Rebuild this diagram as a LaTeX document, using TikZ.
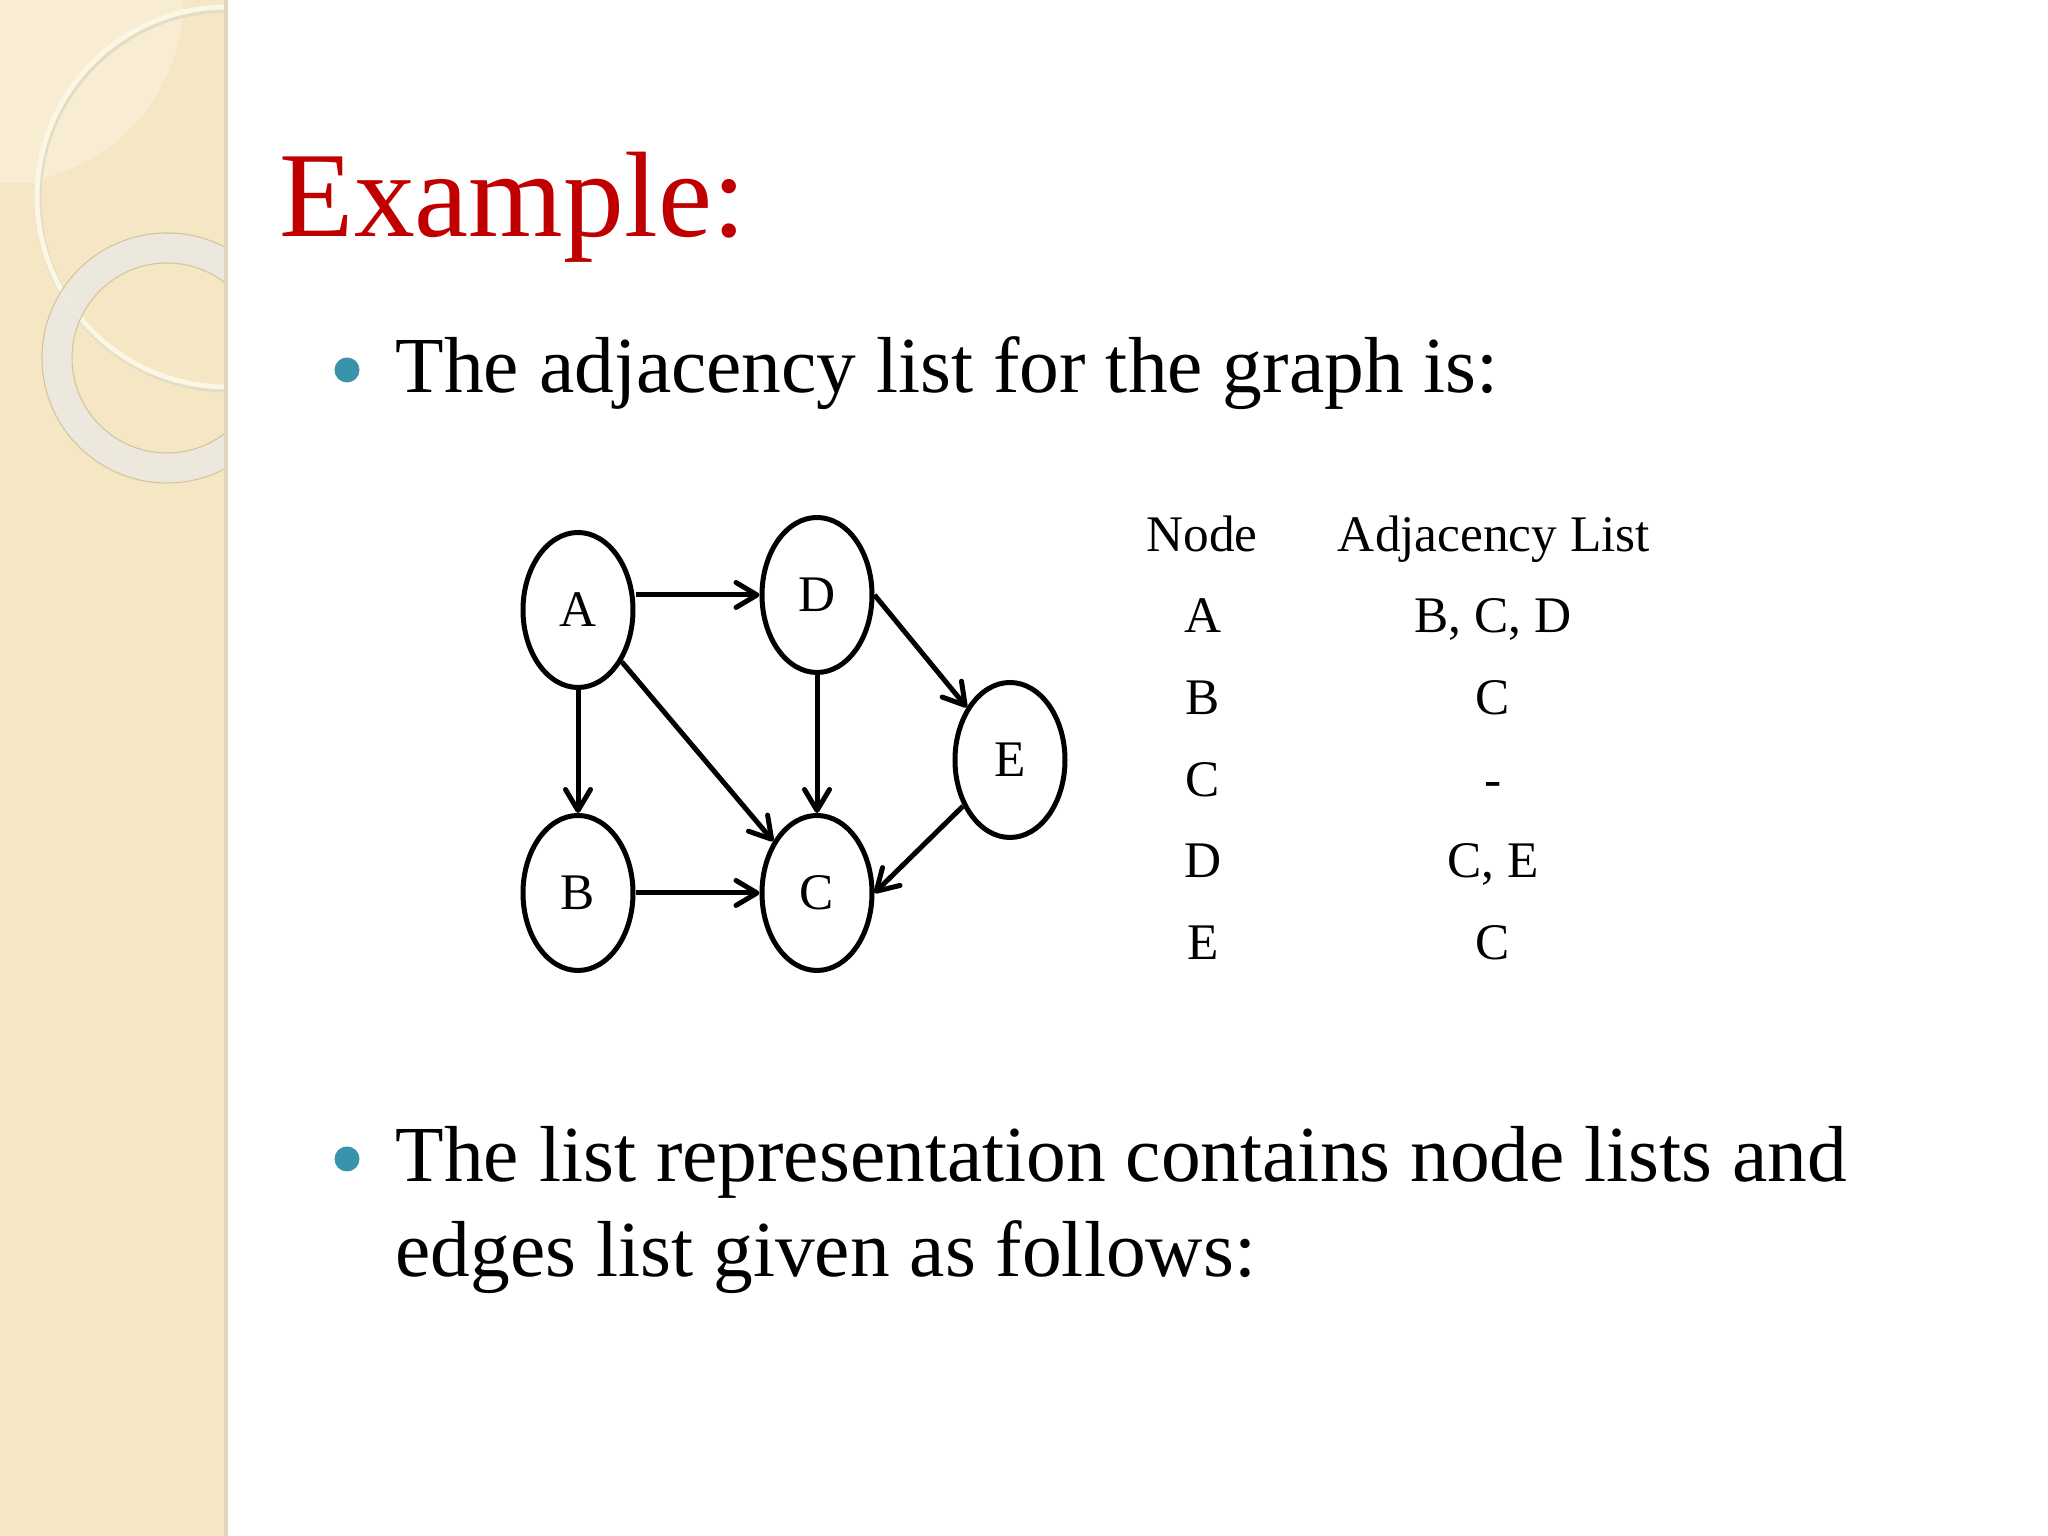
\documentclass[tikz,border=0pt]{standalone}
\usepackage{fontspec}
\setmainfont{Liberation Serif}
\usetikzlibrary{positioning, arrows.meta, shapes.geometric}

\definecolor{bandcream}{RGB}{245,231,195}
\definecolor{patchcream}{RGB}{248,237,210}
\definecolor{ringcream}{RGB}{252,246,228}
\definecolor{ringgrey}{RGB}{236,233,224}
\definecolor{ringedge}{RGB}{212,196,158}
\definecolor{titlered}{RGB}{192,0,0}
\definecolor{bulletteal}{RGB}{56,147,171}

\begin{document}
\begin{tikzpicture}[> = {Straight Barb[length=2.1mm, width=2.5mm, round]},
    vertex/.style = {draw, ellipse, line width=0.5mm, minimum width=11mm,
      minimum height=15.5mm, inner sep=0pt, font=\fontsize{14.6}{17}\selectfont},
    cell/.style = {anchor=base, inner sep=0pt, font=\fontsize{14.6}{17}\selectfont},
    bodytext/.style = {anchor=base west, inner sep=0pt, font=\fontsize{22.6}{27}\selectfont},
    dot/.style = {circle, fill=bulletteal, inner sep=0pt, minimum size=2.5mm}]
    \useasboundingbox (0,0) rectangle (20.48,15.36);

    % side band
    \fill[white] (0,0) rectangle (20.48,15.36);
    \fill[bandcream] (0,0) rectangle (2.28,15.36);
    \begin{scope}
      \clip (0,0) rectangle (2.26,15.36);
      \begin{scope}
        \clip (0,13.53) rectangle (1.83,15.36);
        \fill[patchcream] (0,15.36) circle (1.83);
        \fill[patchcream, even odd rule] (0,13.53) rectangle (1.83,15.36) (2.27,13.39) circle (1.90);
      \end{scope}
      \draw[ringedge!60, line width=0.7mm] (2.28,13.37) circle (1.90);
      \draw[ringcream, line width=0.5mm] (2.27,13.39) circle (1.90);
      \draw[ringgrey, line width=3mm, opacity=.9] (1.67,11.78) circle (1.10);
      \draw[ringedge, line width=0.3pt] (1.67,11.78) circle (1.25) (1.67,11.78) circle (0.95);
    \end{scope}
    \fill[ringedge!70] (2.24,0) rectangle (2.28,15.36);

    % heading and first point
    \node[anchor=base west, inner sep=0pt, text=titlered,
      font=\fontsize{34.6}{41}\selectfont] (title) at (2.79,12.99) {Example:};
    \node[dot] (dot1) at (3.47,11.66) {};
    \node[bodytext] (intro) at (3.95,11.43) {The adjacency list for the graph is:};

    % graph
    \node[vertex] (A) at (5.78,9.26) {A};
    \node[vertex] (D) [right=1.24cm of A, yshift=1.5mm] {D};
    \node[vertex] (B) [below=1.23cm of A] {B};
    \node[vertex] (C) [right=1.24cm of B] {C};
    \node[vertex] (E) [right=0.78cm of D, yshift=-16.5mm] {E};

    \path[->, line width=0.5mm]
    (A.east |- D.west) edge (D.west)
    (A) edge (B)
    (A) edge (C)
    (B) edge (C)
    (D) edge (C)
    (D.east) edge (E)
    (E) edge (C.east);

    % adjacency table
    \node[cell] (hnode) at (12.02,9.84) {Node};
    \node[cell] (hadj) at (14.94,9.84) {Adjacency List};
    \node[cell] (nA) at (12.03,9.03) {A};
    \node[cell] (lA) at (14.93,9.03) {B, C, D};
    \node[cell] (nB) at (12.03,8.21) {B};
    \node[cell] (lB) at (14.93,8.21) {C};
    \node[cell] (nC) at (12.03,7.39) {C};
    \node[cell] (lC) at (14.93,7.39) {-};
    \node[cell] (nD) at (12.03,6.58) {D};
    \node[cell] (lD) at (14.93,6.58) {C, E};
    \node[cell] (nE) at (12.03,5.76) {E};
    \node[cell] (lE) at (14.93,5.76) {C};

    % second point
    \node[dot] (dot2) at (3.47,3.77) {};
    \node[bodytext] (note1) at (3.95,3.54) {The list representation contains node lists and};
    \node[bodytext] (note2) at (3.95,2.59) {edges list given as follows:};
\end{tikzpicture}
\end{document}
